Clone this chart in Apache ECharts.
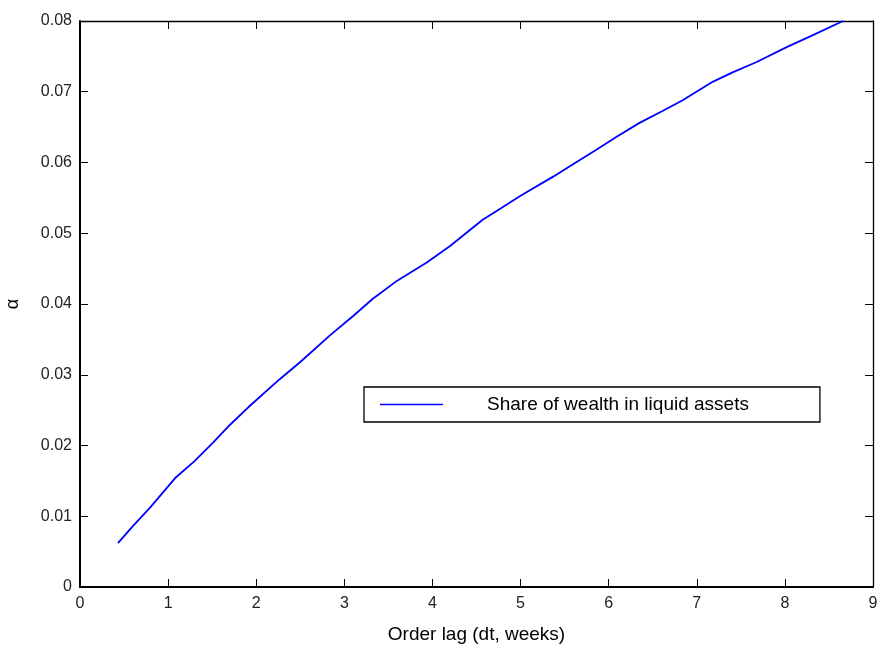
<!DOCTYPE html>
<html>
<head>
<meta charset="utf-8">
<script src="https://cdn.jsdelivr.net/npm/echarts@6/dist/echarts.min.js"></script>
<style>html,body{margin:0;padding:0;background:#fff}#c{width:881px;height:646px}</style>
</head>
<body>
<div id="c"></div>
<script>
const xVals = [0.43, 0.6, 0.8, 1.08, 1.3, 1.51, 1.7, 1.91, 2.26, 2.5, 2.84, 3.1, 3.32, 3.6, 3.94, 4.2, 4.57, 4.76, 5.0, 5.37, 5.6, 5.86, 6.1, 6.35, 6.6, 6.84, 7.18, 7.4, 7.68, 8.02, 8.3, 8.66];
const yVals = [0.0062, 0.0086, 0.0113, 0.0154, 0.0178, 0.0204, 0.0229, 0.0254, 0.0293, 0.0318, 0.0356, 0.0383, 0.0407, 0.0433, 0.0459, 0.0482, 0.0519, 0.0534, 0.0553, 0.0580, 0.0598, 0.0618, 0.0637, 0.0656, 0.0672, 0.0688, 0.0714, 0.0727, 0.0742, 0.0763, 0.0779, 0.0800];
const seriesName = 'Share of wealth in liquid assets';
const xTitle = 'Order lag (dt, weeks)';
const yTitle = 'α';

const chart = echarts.init(document.getElementById('c'));
const font = '"Liberation Sans", Arial, sans-serif';
function axisBase(width) {
  return {
    axisLine: {show: true, onZero: false, lineStyle: {color: '#000', width: width}},
    axisTick: {show: true, inside: true, length: 8, lineStyle: {color: '#000', width: 1}},
    splitLine: {show: false}
  };
}
chart.setOption({
  animation: false,
  backgroundColor: '#fff',
  grid: {left: 80, right: 8, top: 21, bottom: 59, containLabel: false, outerBoundsMode: 'none'},
  legend: {
    show: true,
    left: 364, top: 387, orient: 'vertical',
    data: [{name: seriesName, icon: 'rect'}],
    backgroundColor: '#fff',
    borderColor: '#000', borderWidth: 1.3, borderRadius: 0,
    padding: [8, 71, 8, 16],
    itemWidth: 63, itemHeight: 1.5,
    itemStyle: {color: '#0000ff', borderWidth: 0},
    textStyle: {fontFamily: font, fontSize: 19, color: '#000', padding: [0, 0, 0, 39]}
  },
  xAxis: [
    Object.assign(axisBase(2), {
      type: 'value', min: 0, max: 9, interval: 1, position: 'bottom', gridIndex: 0,
      name: xTitle, nameLocation: 'middle', nameGap: 38,
      nameTextStyle: {fontFamily: font, fontSize: 19, color: '#000'},
      axisLabel: {fontFamily: font, fontSize: 16, color: '#222', margin: 9}
    }),
    Object.assign(axisBase(1.3), {
      type: 'value', min: 0, max: 9, interval: 1, position: 'top', gridIndex: 0,
      axisLabel: {show: false}
    })
  ],
  yAxis: [
    Object.assign(axisBase(2), {
      type: 'value', min: 0, max: 0.08, interval: 0.01, position: 'left', gridIndex: 0,
      name: yTitle, nameLocation: 'middle', nameGap: 58, nameRotate: 90,
      nameTextStyle: {fontFamily: font, fontSize: 18, color: '#000'},
      axisLabel: {fontFamily: font, fontSize: 16, color: '#222', margin: 8,
        formatter: v => v === 0 ? '0' : v.toFixed(2)}
    }),
    Object.assign(axisBase(1.3), {
      type: 'value', min: 0, max: 0.08, interval: 0.01, position: 'right', gridIndex: 0,
      axisLabel: {show: false}
    })
  ],
  series: [{
    name: seriesName,
    type: 'line',
    xAxisIndex: 0, yAxisIndex: 0,
    data: xVals.map((x, i) => [x, yVals[i]]),
    showSymbol: false, symbol: 'none',
    smooth: false,
    lineStyle: {color: '#0000ff', width: 1.8},
    itemStyle: {color: '#0000ff'}
  }]
});
</script>
</body>
</html>
